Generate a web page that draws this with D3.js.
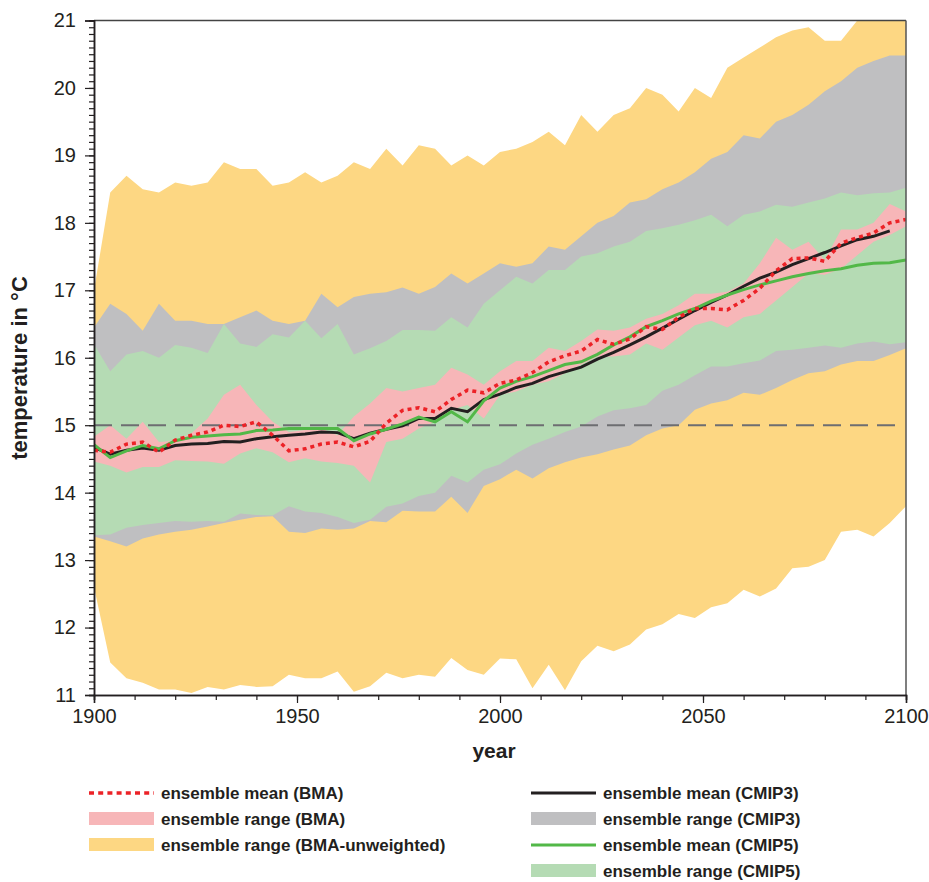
<!DOCTYPE html>
<html>
<head>
<meta charset="utf-8">
<script src="https://cdn.jsdelivr.net/npm/d3@7"></script>
<style>
  body { margin: 0; background: #fff; }
  svg text { font-family: "Liberation Sans", Arial, sans-serif; fill: #231f20; }
</style>
</head>
<body>
<div id="chart"></div>
<script>
// years sampled every 4 years, 1900..2100
const years = d3.range(1900, 2101, 4);

// ensemble range (BMA-unweighted)
const unwHigh = [17.0, 18.45, 18.7, 18.5, 18.45, 18.6, 18.55, 18.6, 18.9, 18.8,
  18.8, 18.55, 18.6, 18.75, 18.6, 18.7, 18.9, 18.8, 19.1, 18.85,
  19.15, 19.1, 18.85, 19.0, 18.85, 19.05, 19.1, 19.2, 19.35, 19.15,
  19.6, 19.35, 19.6, 19.7, 20.0, 19.9, 19.65, 20.0, 19.85, 20.3,
  20.45, 20.6, 20.75, 20.85, 20.9, 20.7, 20.7, 21.0, 21.3, 21.4, 21.5];
const unwLow = [12.6, 11.48, 11.25, 11.18, 11.08, 11.08, 11.03, 11.12, 11.08, 11.15,
  11.12, 11.13, 11.3, 11.25, 11.25, 11.35, 11.05, 11.13, 11.33, 11.25,
  11.3, 11.27, 11.55, 11.37, 11.3, 11.54, 11.53, 11.1, 11.45, 11.07,
  11.5, 11.73, 11.65, 11.75, 11.97, 12.05, 12.2, 12.14, 12.3, 12.36,
  12.56, 12.46, 12.58, 12.88, 12.9, 13.0, 13.42, 13.45, 13.35, 13.55, 13.8];

// ensemble range (CMIP3)
const cmip3High = [16.45, 16.8, 16.65, 16.4, 16.8, 16.55, 16.55, 16.5, 16.5, 16.6,
  16.7, 16.55, 16.5, 16.55, 16.95, 16.75, 16.9, 16.95, 16.97, 17.04,
  16.95, 17.05, 17.25, 17.1, 17.25, 17.4, 17.35, 17.4, 17.65, 17.6,
  17.8, 18.0, 18.1, 18.3, 18.35, 18.5, 18.6, 18.75, 18.95, 19.05,
  19.3, 19.25, 19.5, 19.6, 19.75, 19.95, 20.1, 20.3, 20.4, 20.48, 20.48];
const cmip3Low = [13.35, 13.28, 13.2, 13.32, 13.38, 13.42, 13.45, 13.5, 13.55, 13.6,
  13.64, 13.65, 13.42, 13.4, 13.47, 13.45, 13.47, 13.58, 13.56, 13.73,
  13.72, 13.72, 13.94, 13.7, 14.1, 14.2, 14.34, 14.21, 14.36, 14.45,
  14.52, 14.57, 14.64, 14.7, 14.85, 14.95, 15.0, 15.23, 15.32, 15.37,
  15.48, 15.45, 15.55, 15.67, 15.77, 15.8, 15.9, 15.95, 15.95, 16.04, 16.14];

// ensemble range (CMIP5)
const cmip5High = [16.2, 15.8, 16.05, 16.1, 16.0, 16.19, 16.15, 16.07, 16.5, 16.21,
  16.16, 16.35, 16.3, 16.55, 16.29, 16.5, 16.05, 16.14, 16.25, 16.41,
  16.41, 16.4, 16.6, 16.45, 16.8, 17.0, 17.2, 17.1, 17.3, 17.3,
  17.5, 17.55, 17.65, 17.72, 17.88, 17.92, 17.97, 18.04, 18.12, 17.95,
  18.12, 18.17, 18.27, 18.24, 18.3, 18.36, 18.45, 18.41, 18.44, 18.45, 18.52];
const cmip5Low = [13.37, 13.38, 13.48, 13.52, 13.55, 13.58, 13.57, 13.58, 13.57, 13.69,
  13.67, 13.66, 13.8, 13.72, 13.7, 13.64, 13.55, 13.6, 13.79, 13.84,
  13.95, 14.0, 14.25, 14.15, 14.34, 14.42, 14.58, 14.71, 14.8, 14.9,
  14.98, 15.13, 15.22, 15.25, 15.3, 15.51, 15.6, 15.74, 15.87, 15.87,
  15.92, 15.96, 16.1, 16.12, 16.15, 16.18, 16.15, 16.21, 16.24, 16.2, 16.23];

// ensemble range (BMA)
const bmaHigh = [14.83, 15.0, 14.8, 15.05, 14.75, 14.77, 14.88, 15.1, 15.45, 15.6,
  15.3, 15.05, 14.9, 14.93, 14.95, 14.85, 15.13, 15.32, 15.55, 15.5,
  15.55, 15.6, 15.85, 15.75, 15.6, 15.8, 15.95, 15.95, 16.15, 16.1,
  16.25, 16.42, 16.4, 16.45, 16.58, 16.65, 16.78, 16.95, 16.95, 16.98,
  17.1, 17.4, 17.78, 17.6, 17.72, 17.45, 17.9, 17.9, 18.0, 18.28, 18.17];
const bmaLow = [14.46, 14.4, 14.3, 14.38, 14.38, 14.48, 14.47, 14.46, 14.43, 14.58,
  14.66, 14.6, 14.45, 14.51, 14.46, 14.44, 14.4, 14.15, 14.75, 14.8,
  14.95, 15.05, 15.23, 15.3, 15.1, 15.45, 15.5, 15.6, 15.65, 15.77,
  15.9, 16.02, 16.02, 16.05, 16.21, 16.12, 16.3, 16.48, 16.55, 16.45,
  16.6, 16.65, 16.85, 17.05, 17.25, 17.23, 17.32, 17.52, 17.72, 17.82, 17.95];

// ensemble means
const bmaMean = [14.63, 14.6, 14.72, 14.75, 14.6, 14.78, 14.85, 14.9, 15.0, 14.98,
  15.05, 14.85, 14.62, 14.65, 14.72, 14.75, 14.68, 14.76, 15.03, 15.22,
  15.26, 15.2, 15.38, 15.52, 15.48, 15.62, 15.67, 15.78, 15.94, 16.03,
  16.1, 16.27, 16.2, 16.28, 16.46, 16.42, 16.6, 16.73, 16.73, 16.71,
  16.85, 17.03, 17.29, 17.47, 17.48, 17.43, 17.7, 17.78, 17.85, 18.0, 18.05];
const cmip3Mean = [14.67, 14.57, 14.63, 14.66, 14.63, 14.7, 14.72, 14.73, 14.76, 14.75,
  14.8, 14.83, 14.85, 14.87, 14.9, 14.89, 14.8, 14.88, 14.94, 14.99,
  15.1, 15.1, 15.25, 15.2, 15.38, 15.46, 15.56, 15.62, 15.72, 15.79,
  15.86, 15.98, 16.08, 16.19, 16.31, 16.44, 16.57, 16.7, 16.82, 16.93,
  17.06, 17.18, 17.27, 17.38, 17.47, 17.56, 17.66, 17.75, 17.8, 17.88, null];
const cmip5Mean = [14.71, 14.52, 14.62, 14.7, 14.65, 14.77, 14.82, 14.84, 14.86, 14.87,
  14.92, 14.93, 14.95, 14.95, 14.95, 14.95, 14.77, 14.87, 14.94, 15.02,
  15.12, 15.05, 15.2, 15.05, 15.36, 15.55, 15.65, 15.72, 15.81, 15.9,
  15.94, 16.05, 16.19, 16.31, 16.46, 16.55, 16.65, 16.73, 16.84, 16.93,
  17.01, 17.08, 17.14, 17.2, 17.25, 17.29, 17.32, 17.37, 17.4, 17.41, 17.45];

const refTemp = 15;
const xMajorTicks = [1900, 1950, 2000, 2050, 2100];
const yMajorTicks = [11, 12, 13, 14, 15, 16, 17, 18, 19, 20, 21];

const legendLeft = ["ensemble mean (BMA)", "ensemble range (BMA)", "ensemble range (BMA-unweighted)"];
const legendRight = ["ensemble mean (CMIP3)", "ensemble range (CMIP3)", "ensemble mean (CMIP5)", "ensemble range (CMIP5)"];

const w = 929, h = 882;
const margin = {left: 94, top: 20.5, right: 23, bottom: 187};

const svg = d3.select("#chart").append("svg")
  .attr("width", w).attr("height", h);

const x = d3.scaleLinear().domain([1900, 2100]).range([margin.left, w - margin.right]);
const y = d3.scaleLinear().domain([11, 21]).range([h - margin.bottom, margin.top]);

svg.append("clipPath").attr("id", "plot")
  .append("rect")
  .attr("x", x(1900)).attr("y", y(21))
  .attr("width", x(2100) - x(1900)).attr("height", y(11) - y(21));

const rows = years.map((yr, i) => ({
  year: yr,
  uh: unwHigh[i], ul: unwLow[i],
  c3h: cmip3High[i], c3l: cmip3Low[i],
  c5h: cmip5High[i], c5l: cmip5Low[i],
  bh: bmaHigh[i], bl: bmaLow[i],
  bm: bmaMean[i], m3: cmip3Mean[i], m5: cmip5Mean[i]
}));

const g = svg.append("g").attr("clip-path", "url(#plot)");

const band = (hi, lo) => d3.area()
  .x(d => x(d.year))
  .y0(d => y(d[lo]))
  .y1(d => y(d[hi]));

g.append("path").datum(rows).attr("d", band("uh", "ul")).attr("fill", "#fdd783");
g.append("path").datum(rows).attr("d", band("c3h", "c3l")).attr("fill", "#bfbfc1");
g.append("path").datum(rows).attr("d", band("c5h", "c5l")).attr("fill", "#b5dbb4");
g.append("path").datum(rows).attr("d", band("bh", "bl")).attr("fill", "#f7b6b8");

// reference line at 15 °C
g.append("line")
  .attr("x1", x(1900)).attr("x2", x(2098))
  .attr("y1", y(refTemp)).attr("y2", y(refTemp))
  .attr("stroke", "#6d6e71").attr("stroke-width", 2)
  .attr("stroke-dasharray", "18,9");

const line = key => d3.line()
  .defined(d => d[key] != null)
  .x(d => x(d.year))
  .y(d => y(d[key]));

g.append("path").datum(rows).attr("d", line("m3"))
  .attr("fill", "none").attr("stroke", "#231f20").attr("stroke-width", 3);
g.append("path").datum(rows).attr("d", line("m5"))
  .attr("fill", "none").attr("stroke", "#52b848").attr("stroke-width", 3);
g.append("path").datum(rows).attr("d", line("bm"))
  .attr("fill", "none").attr("stroke", "#ec2227").attr("stroke-width", 3.5)
  .attr("stroke-dasharray", "4,4");

// frame top and right
svg.append("line").attr("x1", x(1900)).attr("x2", x(2100))
  .attr("y1", y(21)).attr("y2", y(21))
  .attr("stroke", "#444").attr("stroke-width", 1.5);
svg.append("line").attr("x1", x(2100)).attr("x2", x(2100))
  .attr("y1", y(21)).attr("y2", y(11))
  .attr("stroke", "#555").attr("stroke-width", 1.5);

// axes: minor then major ticks
const yMinor = d3.axisLeft(y).tickValues(d3.range(110, 211).map(v => v / 10)).tickSize(5).tickFormat("");
const yMajor = d3.axisLeft(y).tickValues(yMajorTicks).tickSize(9).tickPadding(9).tickFormat(d3.format("d"));
const xMinor = d3.axisBottom(x).tickValues(d3.range(1900, 2101, 10)).tickSize(5).tickFormat("");
const xMajor = d3.axisBottom(x).tickValues(xMajorTicks).tickSize(8).tickPadding(6).tickFormat(d3.format("d"));

const axisStyle = sel => {
  sel.selectAll("path").attr("stroke", "#231f20").attr("stroke-width", 1.5);
  sel.selectAll("line").attr("stroke", "#231f20").attr("stroke-width", 1.2);
  sel.selectAll("text").attr("font-size", 20).attr("fill", "#231f20");
};

svg.append("g").attr("transform", `translate(${x(1900)},0)`).call(yMinor).call(axisStyle);
svg.append("g").attr("transform", `translate(${x(1900)},0)`).call(yMajor).call(axisStyle);
svg.append("g").attr("transform", `translate(0,${y(11)})`).call(xMinor).call(axisStyle);
svg.append("g").attr("transform", `translate(0,${y(11)})`).call(xMajor).call(axisStyle);

svg.append("text")
  .attr("x", 494).attr("y", 758)
  .attr("text-anchor", "middle").attr("font-size", 21).attr("font-weight", "bold")
  .text("year");

svg.append("text")
  .attr("transform", "translate(27,368) rotate(-90)")
  .attr("text-anchor", "middle").attr("font-size", 22).attr("font-weight", "bold")
  .text("temperature in °C");

// legend
const leg = svg.append("g").attr("font-size", 17);
const rowY = i => 793 + i * 26;

function legendItem(col, i, label, kind, color) {
  const x0 = col === 0 ? 89 : 531;
  const item = leg.append("g");
  if (kind === "rect") {
    item.append("rect").attr("x", x0).attr("y", rowY(i) - 7)
      .attr("width", 65).attr("height", 13).attr("fill", color);
  } else {
    const ln = item.append("line").attr("x1", x0).attr("x2", x0 + 65)
      .attr("y1", rowY(i)).attr("y2", rowY(i))
      .attr("stroke", color).attr("stroke-width", kind === "dot" ? 3.5 : 3);
    if (kind === "dot") ln.attr("stroke-dasharray", "5,4.2");
  }
  item.append("text").attr("x", x0 + 72).attr("y", rowY(i)).attr("dy", "0.35em")
    .attr("font-weight", "bold").text(label);
}

legendItem(0, 0, legendLeft[0], "dot", "#ec2227");
legendItem(0, 1, legendLeft[1], "rect", "#f7b6b8");
legendItem(0, 2, legendLeft[2], "rect", "#fdd783");
legendItem(1, 0, legendRight[0], "line", "#231f20");
legendItem(1, 1, legendRight[1], "rect", "#bfbfc1");
legendItem(1, 2, legendRight[2], "line", "#52b848");
legendItem(1, 3, legendRight[3], "rect", "#b5dbb4");
</script>
</body>
</html>
